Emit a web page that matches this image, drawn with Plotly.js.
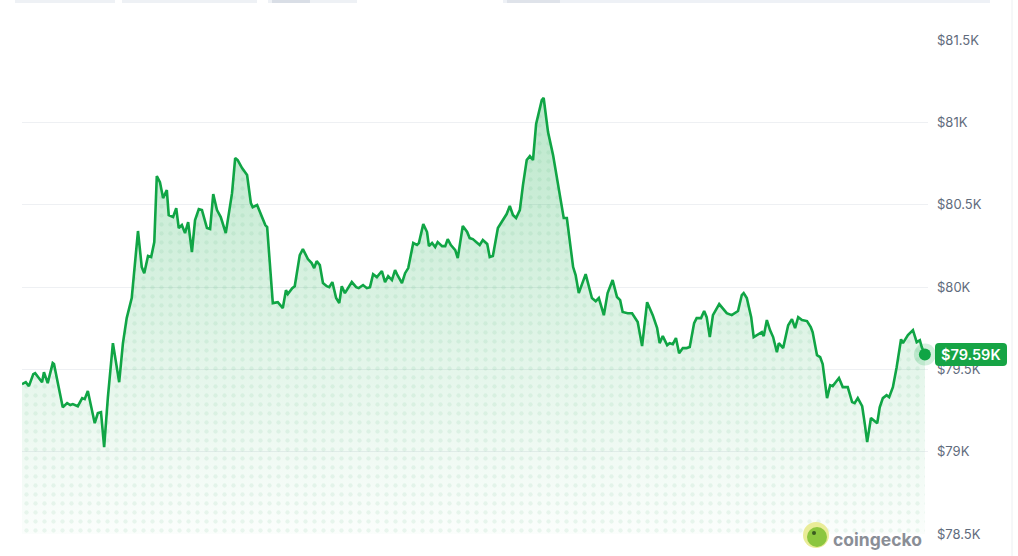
<!DOCTYPE html>
<html>
<head>
<meta charset="utf-8">
<script src="https://cdn.plot.ly/plotly-3.0.1.min.js"></script>
<style>
html,body{margin:0;padding:0;background:#ffffff;}
#chart{width:1018px;height:556px;}
</style>
</head>
<body>
<div id="chart"></div>
<script>
// minutes since start of the 24h window
const minutes = [0,6,11,18,21,32,35,41,49,51,65,72,77,81,89,96,100,105,116,121,126,131,137,145,155,161,167,175,185,191,195,201,206,211,215,220,225,231,234,241,246,250,255,260,265,271,276,282,287,295,300,305,311,317,325,335,340,344,351,359,365,368,375,383,388,391,400,408,416,421,424,431,435,443,448,456,462,466,470,475,480,486,490,495,501,506,510,515,521,526,533,537,544,550,555,560,566,574,579,584,590,595,598,606,611,616,624,630,633,640,646,649,654,659,663,670,675,679,684,691,695,703,710,714,719,726,730,735,742,746,751,759,767,773,778,783,788,794,799,805,810,815,820,826,829,832,839,847,855,861,864,869,879,883,888,899,909,915,920,928,934,942,949,954,958,966,973,982,989,997,1006,1013,1017,1022,1029,1033,1038,1043,1048,1054,1060,1065,1072,1076,1083,1088,1092,1097,1102,1112,1118,1124,1132,1137,1142,1148,1151,1156,1163,1167,1174,1180,1183,1188,1193,1198,1204,1207,1214,1222,1228,1233,1238,1244,1252,1258,1261,1268,1273,1277,1284,1289,1293,1298,1303,1309,1317,1324,1328,1333,1340,1344,1348,1354,1360,1364,1368,1373,1379,1383,1389,1395,1402,1405,1413,1421,1427,1432,1435,1440];
// BTC price in USD
const prices = [79410,79422,79398,79471,79477,79422,79483,79416,79538,79532,79270,79295,79283,79289,79276,79325,79319,79368,79173,79234,79240,79027,79331,79659,79422,79659,79811,79933,80340,80121,80084,80188,80182,80273,80674,80637,80540,80589,80437,80425,80479,80358,80376,80327,80394,80212,80406,80473,80467,80358,80352,80564,80467,80425,80327,80570,80783,80771,80722,80680,80510,80485,80498,80419,80376,80364,79902,79908,79872,79981,79957,79993,80005,80194,80230,80170,80145,80115,80157,80133,80024,80005,79999,80030,79933,79902,80005,79963,79999,80030,79999,79993,80012,79993,79999,80078,80060,80097,80030,80066,80042,80103,80078,80024,80084,80115,80267,80255,80267,80382,80334,80248,80267,80242,80273,80248,80248,80291,80255,80224,80176,80370,80334,80297,80291,80267,80255,80285,80261,80182,80188,80358,80406,80443,80492,80437,80419,80467,80619,80771,80795,80771,80990,81087,81135,81148,80941,80801,80619,80479,80419,80419,80121,80072,79963,80078,79933,79914,79933,79829,79963,80042,79939,79920,79848,79841,79841,79787,79641,79908,79829,79750,79659,79702,79647,79659,79653,79690,79598,79629,79629,79635,79781,79811,79811,79854,79817,79696,79829,79896,79866,79841,79829,79841,79854,79951,79963,79933,79817,79696,79714,79726,79702,79799,79738,79696,79604,79659,79629,79768,79805,79750,79817,79799,79793,79756,79726,79586,79574,79532,79325,79404,79398,79422,79447,79392,79392,79301,79295,79325,79276,79173,79058,79204,79185,79173,79270,79325,79343,79331,79392,79513,79683,79659,79708,79738,79665,79677,79635,79590];
const tickValues = [78500,79000,79500,80000,80500,81000,81500];
const tickLabels = ['$78.5K','$79K','$79.5K','$80K','$80.5K','$81K','$81.5K'];
const currentLabel = '$79.59K';

const green = '#10a545';
const lastX = minutes[minutes.length-1];
const lastY = prices[prices.length-1];

const traces = [
  {
    x: minutes, y: prices, type:'scatter', mode:'lines',
    line:{width:0, color:'rgba(0,0,0,0)'},
    fill:'tozeroy',
    fillgradient:{type:'vertical', start:78500, stop:81150,
      colorscale:[[0,'rgba(40,180,90,0.02)'],[0.4,'rgba(40,180,90,0.13)'],[1,'rgba(40,180,90,0.32)']]},
    hoverinfo:'skip', showlegend:false
  },
  {
    x: minutes, y: prices, type:'scatter', mode:'lines',
    line:{width:2.6, color:green, shape:'linear'},
    fill:'tozeroy', fillcolor:'rgba(0,0,0,0)',
    fillpattern:{shape:'.', size:9, solidity:0.18, fgcolor:'rgba(30,150,80,0.08)', bgcolor:'rgba(0,0,0,0)'},
    showlegend:false
  },
  {
    x:[lastX], y:[lastY], type:'scatter', mode:'markers', cliponaxis:false,
    marker:{size:22, color:'rgba(40,180,90,0.2)'}, showlegend:false, hoverinfo:'skip'
  },
  {
    x:[lastX], y:[lastY], type:'scatter', mode:'markers', cliponaxis:false,
    marker:{size:12, color:green}, showlegend:false
  }
];

function px(p){ return (p-22)/906; }
function py(p){ return (534-p)/494; }

const shapes = [
  // top UI bits (cut-off controls)
  {type:'rect', xref:'paper', yref:'paper', x0:px(15), x1:px(115), y0:py(3), y1:py(-10), fillcolor:'#eef1f5', line:{width:0}, layer:'above'},
  {type:'rect', xref:'paper', yref:'paper', x0:px(122), x1:px(257), y0:py(3), y1:py(-10), fillcolor:'#eef1f5', line:{width:0}, layer:'above'},
  {type:'rect', xref:'paper', yref:'paper', x0:px(268), x1:px(357), y0:py(3), y1:py(-10), fillcolor:'#eef1f5', line:{width:0}, layer:'above'},
  {type:'rect', xref:'paper', yref:'paper', x0:px(272), x1:px(310), y0:py(3), y1:py(-10), fillcolor:'#d9dee6', line:{width:0}, layer:'above'},
  {type:'rect', xref:'paper', yref:'paper', x0:px(503), x1:px(990), y0:py(3), y1:py(-10), fillcolor:'#eef1f6', line:{width:0}, layer:'above'},
  {type:'rect', xref:'paper', yref:'paper', x0:px(507), x1:px(560), y0:py(3), y1:py(-10), fillcolor:'#dfe3ea', line:{width:0}, layer:'above'},
  // right card border
  {type:'line', xref:'paper', yref:'paper', x0:px(1012), x1:px(1012), y0:py(556), y1:py(0), line:{color:'#eceff2', width:1}, layer:'above'},
  // price badge
  {type:'path', xref:'paper', xsizemode:'pixel', xanchor:1, yref:'y', ysizemode:'pixel', yanchor:lastY,
   path:'M 11,-11.5 H 75 Q 79,-11.5 79,-7.5 V 7.5 Q 79,11.5 75,11.5 H 11 Q 7,11.5 7,7.5 V -7.5 Q 7,-11.5 11,-11.5 Z',
   fillcolor:'#16a445', line:{width:0}, layer:'above'},
  // coingecko logo
  {type:'circle', xref:'paper', yref:'paper', x0:px(803), x1:px(829), y0:py(548), y1:py(522), fillcolor:'#e9ec97', line:{width:0}, layer:'above'},
  {type:'circle', xref:'paper', yref:'paper', x0:px(807), x1:px(827), y0:py(547), y1:py(527), fillcolor:'#8cc63f', line:{width:0}, layer:'above'},
  {type:'circle', xref:'paper', yref:'paper', x0:px(812), x1:px(816), y0:py(535), y1:py(531), fillcolor:'#3a5a20', line:{width:0}, layer:'above'}
];

const annotations = [
  {xref:'paper', x:1, xshift:43, xanchor:'center', yref:'y', y:lastY, yanchor:'middle',
   text:currentLabel, showarrow:false, font:{family:'Inter, Roboto, sans-serif', size:14.5, color:'#ffffff', weight:600}},
  {xref:'paper', x:px(831), xanchor:'left', yref:'paper', y:py(539), yanchor:'middle',
   text:'coingecko', showarrow:false, font:{family:'Inter, Roboto, sans-serif', size:17.5, color:'#8a8e96', weight:700}}
];

const layout = {
  width:1018, height:556,
  margin:{l:22, r:90, t:40, b:22, pad:0},
  paper_bgcolor:'#ffffff', plot_bgcolor:'#ffffff',
  showlegend:false,
  xaxis:{range:[0,1445], showgrid:false, zeroline:false, showticklabels:false, showline:false, ticks:'', fixedrange:true},
  yaxis:{range:[78500,81500], side:'right', tickvals:tickValues, ticktext:tickLabels,
    showgrid:true, gridcolor:'#eef0f3', gridwidth:1, zeroline:false, showline:false, ticks:'',
    ticklabelstandoff:8,
    tickfont:{family:'Inter, Roboto, sans-serif', size:13, color:'#5f6b7c'}},
  shapes:shapes,
  annotations:annotations
};

Plotly.newPlot('chart', traces, layout, {displayModeBar:false, staticPlot:true});
</script>
</body>
</html>
